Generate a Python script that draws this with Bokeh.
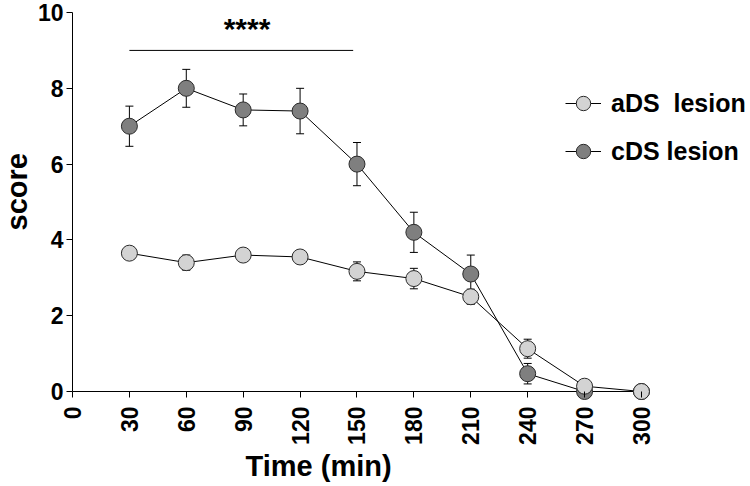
import math
from bokeh.plotting import figure
from bokeh.models import Label, Legend, LegendItem, FixedTicker, Title
from bokeh.embed import file_html
from bokeh.resources import INLINE

# ---- data ----
time_min = [30, 60, 90, 120, 150, 180, 210, 240, 270, 300]
ads_mean = [3.65, 3.40, 3.60, 3.55, 3.17, 2.98, 2.50, 1.13, 0.14, 0.00]
ads_err = [0.08, 0.20, 0.17, 0.08, 0.25, 0.27, 0.20, 0.25, 0.05, 0.00]
cds_mean = [7.00, 8.00, 7.43, 7.40, 6.00, 4.20, 3.10, 0.47, 0.00, 0.00]
cds_err = [0.53, 0.50, 0.42, 0.60, 0.57, 0.53, 0.50, 0.27, 0.00, 0.00]
x_ticks = [0, 30, 60, 90, 120, 150, 180, 210, 240, 270, 300]
y_ticks = [0, 2, 4, 6, 8, 10]
sig_span = [30, 148]
sig_level = 9.0
sig_text = "****"
series_names = ["aDS  lesion", "cDS lesion"]
x_title = "Time (min)"
y_title = "score"

FONT = "Liberation Sans"
W, H = 750, 486
B_LEFT, B_RIGHT, B_TOP, B_BOTTOM = 72, 0, 0, 84
Y0, Y1 = -0.29, 10.317
X0, X1 = 0, 357.5

frame_h = H - B_TOP - B_BOTTOM
ppu = frame_h / (Y1 - Y0)

p = figure(width=W, height=H, output_backend="svg", toolbar_location=None,
           x_range=(X0, X1), y_range=(Y0, Y1),
           min_border_left=B_LEFT, min_border_right=B_RIGHT,
           min_border_top=B_TOP, min_border_bottom=B_BOTTOM)
p.outline_line_color = None
p.xgrid.visible = False
p.ygrid.visible = False
p.background_fill_color = "white"

# axes
xa = p.xaxis[0]
xa.ticker = FixedTicker(ticks=x_ticks)
xa.bounds = (x_ticks[0], x_ticks[-1])
xa.axis_line_color = None
xa.major_tick_in = int(round(-Y0 * ppu))
xa.major_tick_out = -5
xa.minor_tick_line_color = None
xa.major_label_orientation = math.pi / 2
xa.major_label_standoff = 4
xa.major_label_text_font = FONT
xa.major_label_text_font_style = "bold"
xa.major_label_text_font_size = "23px"
xa.major_label_text_color = "black"
xa.major_tick_line_color = "black"

ya = p.yaxis[0]
ya.ticker = FixedTicker(ticks=y_ticks)
ya.bounds = (y_ticks[0], y_ticks[-1])
ya.axis_line_color = "black"
ya.major_tick_in = 0
ya.major_tick_out = 6
ya.minor_tick_line_color = None
ya.major_label_standoff = 3
ya.major_label_text_font = FONT
ya.major_label_text_font_style = "bold"
ya.major_label_text_font_size = "23px"
ya.major_label_text_color = "black"
ya.major_tick_line_color = "black"

# axis titles as side-panel titles
p.add_layout(Title(text=x_title, align="left", offset=173, standoff=0,
                   text_font=FONT, text_font_style="bold", text_font_size="29px",
                   text_color="black"), "below")
p.add_layout(Title(text=y_title, align="left", offset=172, standoff=0,
                   vertical_align="top",
                   text_font=FONT, text_font_style="bold", text_font_size="29px",
                   text_color="black"), "left")

# baseline at y = 0
p.segment(x0=[x_ticks[0]], y0=[0], x1=[x_ticks[-1]], y1=[0], line_color="black", line_width=1)

def draw_series(mean, err, fill):
    lower = [m - e for m, e in zip(mean, err)]
    upper = [m + e for m, e in zip(mean, err)]
    p.segment(x0=time_min, y0=lower, x1=time_min, y1=upper, line_color="black", line_width=1)
    p.scatter(time_min, upper, marker="dash", size=8, line_color="black", line_width=1)
    p.scatter(time_min, lower, marker="dash", size=8, line_color="black", line_width=1)
    ln = p.line(time_min, mean, line_color="black", line_width=1)
    sc = p.scatter(time_min, mean, marker="circle", size=16, fill_color=fill,
                   line_color="#2a2a2a", line_width=1)
    return ln, sc

cds_line, cds_sc = draw_series(cds_mean, cds_err, "#7f7f7f")
ads_line, ads_sc = draw_series(ads_mean, ads_err, "#d3d3d3")

# significance bar
p.segment(x0=[sig_span[0]], y0=[sig_level], x1=[sig_span[1]], y1=[sig_level], line_color="black", line_width=1)
p.add_layout(Label(x=92, y=9.58, text=sig_text, text_font=FONT, text_font_style="bold",
                   text_font_size="30px", text_align="center", text_baseline="alphabetic",
                   text_color="black"))

legend = Legend(items=[LegendItem(label=series_names[0], renderers=[ads_line, ads_sc]),
                       LegendItem(label=series_names[1], renderers=[cds_line, cds_sc])],
                location=(493, 233), glyph_width=36, glyph_height=36, label_height=36,
                spacing=12, padding=0, margin=0, label_standoff=10,
                border_line_color=None, background_fill_alpha=0,
                label_text_font=FONT, label_text_font_style="bold",
                label_text_font_size="25px", label_text_color="black")
p.add_layout(legend)

open("out.html", "w").write(file_html(p, INLINE))
